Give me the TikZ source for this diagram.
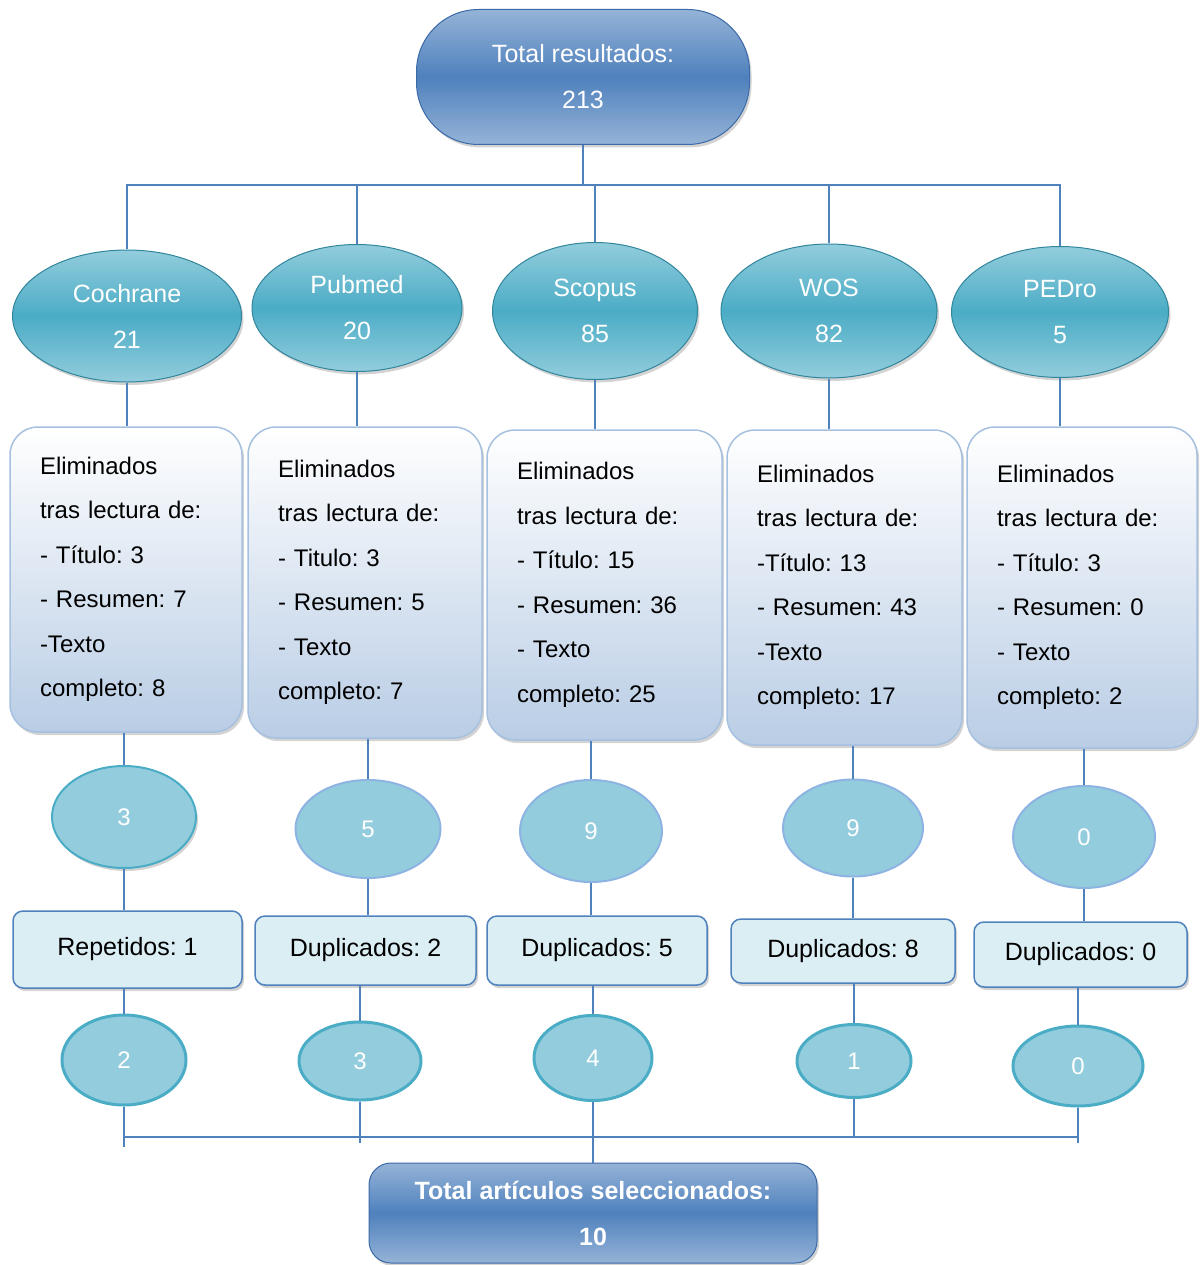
\documentclass[tikz,border=0pt]{standalone}
\usepackage{fontspec}
\setmainfont{Liberation Sans}
\usetikzlibrary{shapes.geometric,shadows}
\definecolor{conn}{HTML}{4F81BD}
\definecolor{pillL}{HTML}{95B3D7}
\definecolor{pillD}{HTML}{4F81BD}
\definecolor{pillB}{HTML}{3A6AA8}
\definecolor{tealL}{HTML}{92CDDC}
\definecolor{tealM}{HTML}{4BACC6}
\definecolor{tealD}{HTML}{31859C}
\definecolor{elimB}{HTML}{B9CDE5}
\definecolor{elimD}{HTML}{A6C0E0}
\definecolor{midF}{HTML}{93CDDD}
\definecolor{midD}{HTML}{8DB3E2}
\definecolor{dupF}{HTML}{DBEEF4}
\newcommand\fsz[2]{\fontsize{#1}{#2}\selectfont}
\frenchspacing
\tikzset{
  shd/.style={drop shadow={shadow xshift=2pt, shadow yshift=-3pt, opacity=0.35}},
  pill/.style={rectangle, rounded corners=62pt, inner sep=0pt, top color=pillL, bottom color=pillL, middle color=pillD, draw=pillB, line width=1pt, text=white, align=center, font=\fsz{25}{46}, shd},
  finalbox/.style={rectangle, rounded corners=22pt, inner sep=0pt, top color=pillL, bottom color=pillL, middle color=pillD, draw=pillB, line width=1pt, text=white, align=center, font=\bfseries\fsz{25}{46}, shd},
  db/.style={ellipse, inner sep=0pt, top color=tealL, bottom color=tealL, middle color=tealM, draw=tealD, line width=1pt, text=white, align=center, font=\fsz{25}{46}, shd},
  elim/.style={rectangle, rounded corners=28pt, inner xsep=30pt, inner ysep=0pt, top color=white, bottom color=elimB, draw=elimD, line width=1.5pt, text=black, align=left, font=\fsz{24}{44.5}, shd},
  midc/.style={ellipse, inner sep=0pt, fill=midF, draw=midD, line width=2pt, text=white, font=\fsz{24}{24}},
  botc/.style={ellipse, inner sep=0pt, fill=midF, draw=tealM, line width=3pt, text=white, font=\fsz{24}{24}},
  dupbox/.style={rectangle, rounded corners=10pt, inner sep=0pt, fill=dupF, draw=conn, line width=1.5pt, text=black, font=\fsz{25}{30}, shd},
  conline/.style={draw=conn, line width=1.5pt}
}
\begin{document}
\begin{tikzpicture}[x=1pt,y=-1pt]
\useasboundingbox (0,0) rectangle (1199,1265);
% top
\node[pill, minimum width=333pt, minimum height=135pt] (top) at (583,77) {Total resultados:\\213};
% databases
\node[db, minimum width=229pt, minimum height=132pt] (db1) at (127,316) {Cochrane\\21};
\node[db, minimum width=210pt, minimum height=127pt] (db2) at (357,308) {Pubmed\\20};
\node[db, minimum width=205pt, minimum height=137pt] (db3) at (595,311) {Scopus\\85};
\node[db, minimum width=216pt, minimum height=134pt] (db4) at (829,311) {WOS\\82};
\node[db, minimum width=217pt, minimum height=131pt] (db5) at (1060,312) {PEDro\\5};
% eliminados boxes
\node[elim, text width=172pt, minimum height=305pt] (el1) at (126,579.5) {Eliminados\\tras lectura de:\\- Título: 3\\- Resumen: 7\\-Texto\\completo: 8\\[-10pt]};
\node[elim, text width=174pt, minimum height=311pt] (el2) at (365,582.5) {Eliminados\\tras lectura de:\\- Titulo: 3\\- Resumen: 5\\- Texto\\completo: 7\\[-10pt]};
\node[elim, text width=175pt, minimum height=310pt] (el3) at (604.5,585) {Eliminados\\tras lectura de:\\- Título: 15\\- Resumen: 36\\- Texto\\completo: 25\\[-10pt]};
\node[elim, text width=175pt, minimum height=315pt] (el4) at (844.5,587.5) {Eliminados\\tras lectura de:\\-Título: 13\\- Resumen: 43\\-Texto\\completo: 17\\[-10pt]};
\node[elim, text width=170pt, minimum height=321pt] (el5) at (1082,587.5) {Eliminados\\tras lectura de:\\- Título: 3\\- Resumen: 0\\- Texto\\completo: 2\\[-10pt]};
% middle circles
\node[midc, draw=tealM, minimum width=144pt, minimum height=102pt, shd] (m1) at (124,817) {3};
\node[midc, minimum width=145pt, minimum height=98pt] (m2) at (368,829) {5};
\node[midc, minimum width=142pt, minimum height=102pt] (m3) at (591,831) {9};
\node[midc, minimum width=140pt, minimum height=97pt] (m4) at (853,828) {9};
\node[midc, minimum width=142pt, minimum height=102pt] (m5) at (1084,837) {0};
% duplicate boxes
\node[dupbox, minimum width=229pt, minimum height=77pt] (d1) at (127.5,949.5) {Repetidos: 1};
\node[dupbox, minimum width=221pt, minimum height=69pt] (d2) at (365.5,950.5) {Duplicados: 2};
\node[dupbox, minimum width=220pt, minimum height=69pt] (d3) at (597,950.5) {Duplicados: 5};
\node[dupbox, minimum width=224pt, minimum height=64pt] (d4) at (843,951) {Duplicados: 8};
\node[dupbox, minimum width=213pt, minimum height=65pt] (d5) at (1080.5,954.5) {Duplicados: 0};
% bottom circles
\node[botc, minimum width=124pt, minimum height=90pt] (b1) at (124,1060) {2};
\node[botc, minimum width=122pt, minimum height=78pt] (b2) at (360,1061) {3};
\node[botc, minimum width=118pt, minimum height=85pt] (b3) at (593,1058) {4};
\node[botc, minimum width=114pt, minimum height=73pt] (b4) at (854,1061) {1};
\node[botc, minimum width=130pt, minimum height=80pt] (b5) at (1078,1066) {0};
% final
\node[finalbox, minimum width=448pt, minimum height=100pt] (final) at (593,1213) {Total artículos seleccionados:\\10};
% connectors: top bus
\coordinate (busA) at (583,185);
\draw[conline] (top.south) -- (top.south |- busA);
\draw[conline] (db1.north) -- (db1.north |- busA) -- (db5.north |- busA) -- (db5.north);
\draw[conline] (db2.north) -- (db2.north |- busA);
\draw[conline] (db3.north) -- (db3.north |- busA);
\draw[conline] (db4.north) -- (db4.north |- busA);
% columns
\foreach \i in {1,...,5}{
  \draw[conline] (db\i.south) -- (db\i.south |- el\i.north);
  \draw[conline] (m\i.north |- el\i.south) -- (m\i.north);
  \draw[conline] (m\i.south) -- (m\i.south |- d\i.north);
  \draw[conline] (b\i.north |- d\i.south) -- (b\i.north);
}
% bottom bus
\coordinate (busB) at (593,1137);
\draw[conline] (b1.south |- busB) -- (b5.south |- busB);
\draw[conline] (b1.south) -- ([yshift=-10pt]b1.south |- busB);
\draw[conline] (b2.south) -- ([yshift=-6pt]b2.south |- busB);
\draw[conline] (b4.south) -- (b4.south |- busB);
\draw[conline] (b5.south) -- ([yshift=-6pt]b5.south |- busB);
\draw[conline] (b3.south) -- (b3.south |- final.north);
\end{tikzpicture}
\end{document}
